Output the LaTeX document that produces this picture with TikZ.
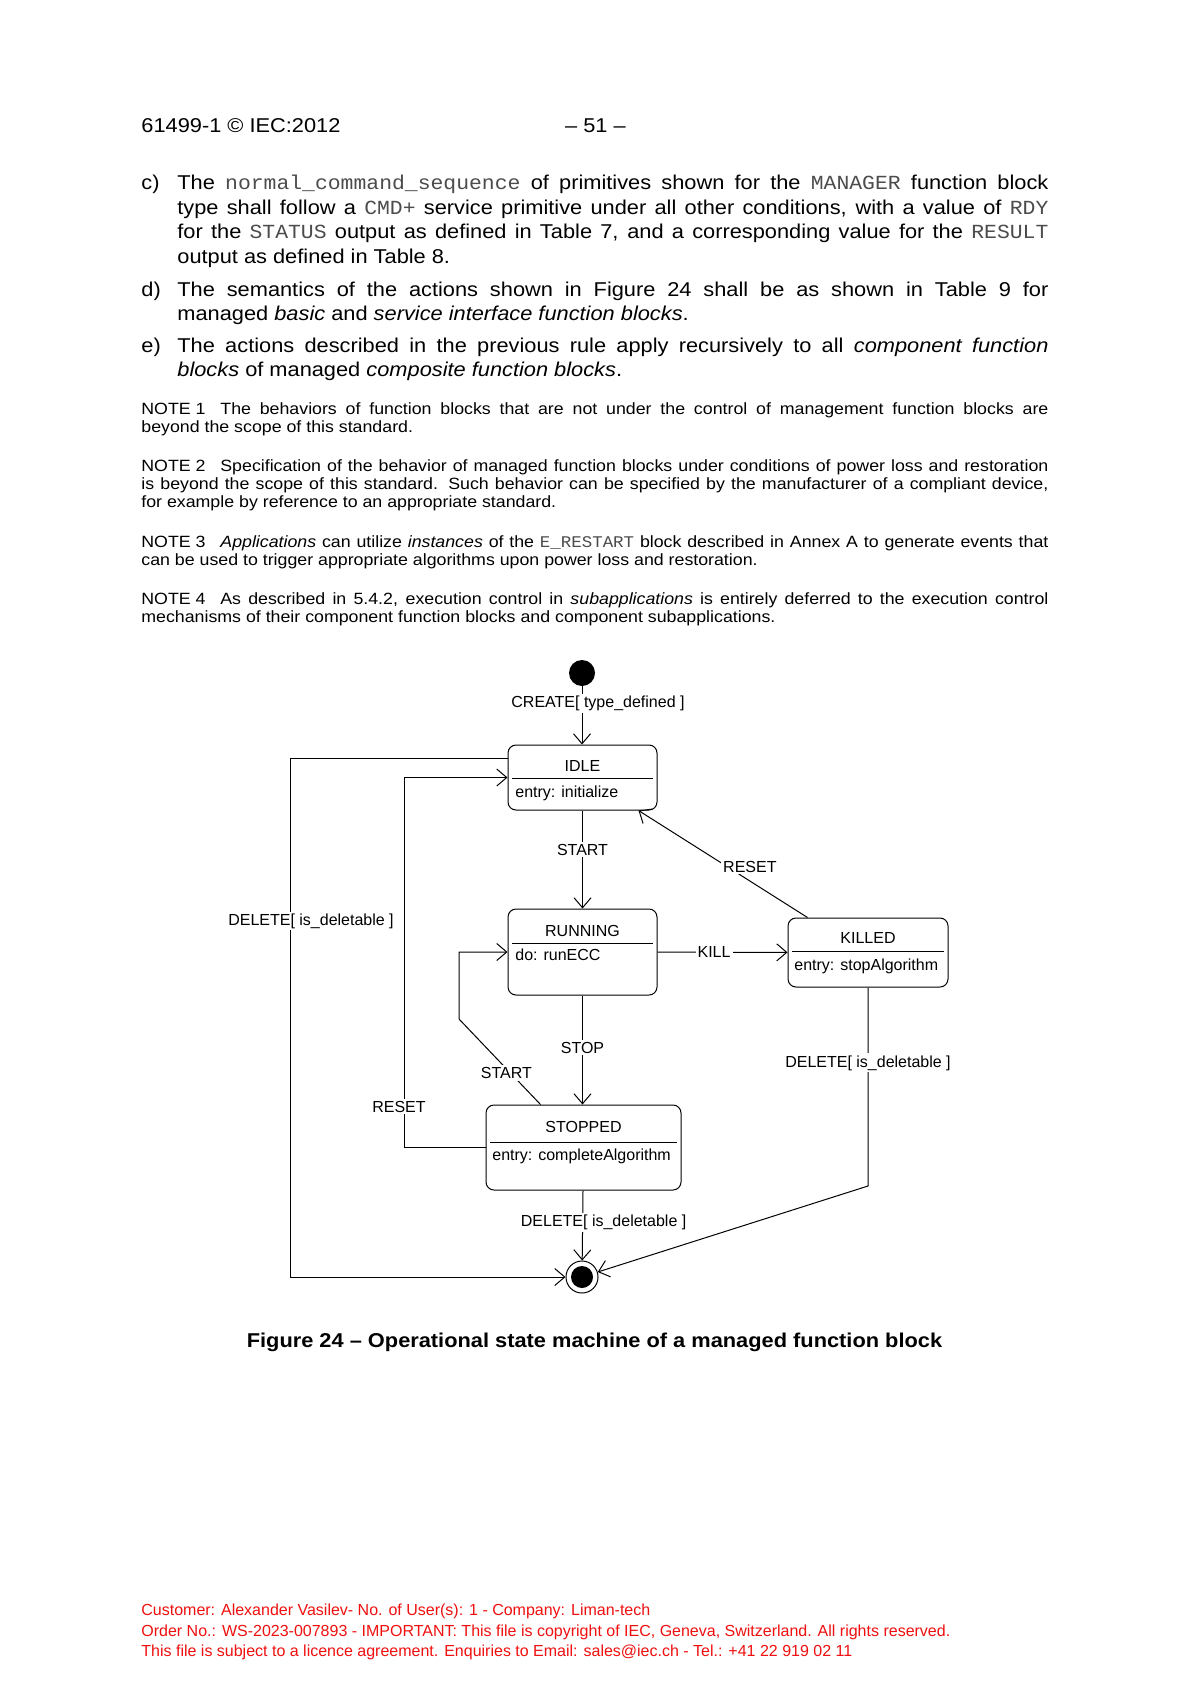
\documentclass[tikz,border=0pt]{standalone}
\usepackage{fontspec}
\setmainfont{Liberation Sans}[FakeStretch=1.09]
\setmonofont{Liberation Mono}[FakeStretch=1.07]
\newfontfamily\diagfont{Liberation Sans}
\usepackage{xcolor}
\usetikzlibrary{arrows.meta}
\definecolor{iecred}{HTML}{F01010}
\newcommand{\iecmono}[1]{{\ttfamily\color{black!70}#1}}
\tikzset{
  ptext/.style={inner sep=0pt,anchor=base west},
  fstate/.style={draw,rounded corners=4pt,line width=0.5pt,inner sep=0pt},
  fsep/.style={line width=0.5pt},
  ftitle/.style={inner sep=0pt,anchor=base,font=\diagfont\fontsize{8}{9.6}\selectfont},
  fact/.style={inner sep=0pt,anchor=base west,font=\diagfont\fontsize{8}{9.6}\selectfont},
  farr/.style={-{Straight Barb[length=5pt,width=8.5pt]},line width=0.5pt},
  flab/.style={fill=white,inner sep=1pt,font=\diagfont\fontsize{8}{9.6}\selectfont}
}

\begin{document}
\begin{tikzpicture}[x=0.5pt,y=-0.5pt]
  \path[fill=white,use as bounding box] (0,0) rectangle (1191,1685);
  % page head
  \node[ptext,font=\fontsize{10}{12}\selectfont] (hd) at (141,133) {61499-1 © IEC:2012};
  \node[inner sep=0pt,anchor=base,font=\fontsize{10}{12}\selectfont] (pg) at (595.5,133) {– 51 –};
  % rules c) to e)
  \node[ptext,font=\fontsize{10}{12}\selectfont] (lc) at (141,190) {c)};
  \node[ptext] (pc) at (177,190) {\parbox[t]{435.5pt}{\fontsize{10}{12.2}\selectfont\sloppy
    The \iecmono{normal\_command\_sequence} of primitives shown for the \iecmono{MANAGER} function block\linebreak
    type shall follow a \iecmono{CMD+} service primitive under all other conditions, with a value of \iecmono{RDY}\linebreak
    for the \iecmono{STATUS} output as defined in Table 7, and a corresponding value for the \iecmono{RESULT}\linebreak
    output as defined in Table 8.}};
  \node[ptext,font=\fontsize{10}{12}\selectfont] (ld) at (141,296) {d)};
  \node[ptext] (pd) at (177,296) {\parbox[t]{435.5pt}{\fontsize{10}{12.2}\selectfont\sloppy
    The semantics of the actions shown in Figure 24 shall be as shown in Table 9 for\linebreak
    managed \textit{basic} and \textit{service interface function blocks}.}};
  \node[ptext,font=\fontsize{10}{12}\selectfont] (le) at (141,352) {e)};
  \node[ptext] (pe) at (177,352) {\parbox[t]{435.5pt}{\fontsize{10}{12.2}\selectfont\sloppy
    The actions described in the previous rule apply recursively to all \textit{component function}\linebreak
    \textit{blocks} of managed \textit{composite function blocks}.}};
  % notes
  \node[ptext] (n1) at (141,414) {\parbox[t]{453.5pt}{\fontsize{8.15}{9.15}\selectfont\sloppy
    \makebox[39.5pt][l]{NOTE 1}The behaviors of function blocks that are not under the control of management function blocks are\linebreak
    beyond the scope of this standard.}};
  \node[ptext] (n2) at (141,471) {\parbox[t]{453.5pt}{\fontsize{8.15}{9.15}\selectfont\sloppy
    \makebox[39.5pt][l]{NOTE 2}Specification of the behavior of managed function blocks under conditions of power loss and restoration\linebreak
    is beyond the scope of this standard. Such behavior can be specified by the manufacturer of a compliant device,\linebreak
    for example by reference to an appropriate standard.}};
  \node[ptext] (n3) at (141,547.5) {\parbox[t]{453.5pt}{\fontsize{8.15}{9.15}\selectfont\sloppy
    \makebox[39.5pt][l]{NOTE 3}\textit{Applications} can utilize \textit{instances} of the \iecmono{E\_RESTART} block described in Annex A to generate events that\linebreak
    can be used to trigger appropriate algorithms upon power loss and restoration.}};
  \node[ptext] (n4) at (141,604.5) {\parbox[t]{453.5pt}{\fontsize{8.15}{9.15}\selectfont\sloppy
    \makebox[39.5pt][l]{NOTE 4}As described in 5.4.2, execution control in \textit{subapplications} is entirely deferred to the execution control\linebreak
    mechanisms of their component function blocks and component subapplications.}};

  % state machine
  \node[fill,circle,minimum size=13pt,inner sep=0pt] (init) at (582,673) {};
  \node[fstate,minimum width=74.5pt,minimum height=32.5pt] (idle) at (582.5,777.5) {};
  \draw[fsep] (512,778) -- (653,778);
  \node[ftitle] (idle-t) at (582.5,771) {IDLE};
  \node[fact] (idle-a) at (515,797) {entry: initialize};
  \node[fstate,minimum width=74.5pt,minimum height=43pt] (running) at (582.5,952) {};
  \draw[fsep] (512,943) -- (653,943);
  \node[ftitle] (running-t) at (582.5,936) {RUNNING};
  \node[fact] (running-a) at (515,960) {do: runECC};
  \node[fstate,minimum width=80pt,minimum height=34.5pt] (killed) at (868,952.5) {};
  \draw[fsep] (792,951) -- (944,951);
  \node[ftitle] (killed-t) at (868,943) {KILLED};
  \node[fact] (killed-a) at (794,970) {entry: stopAlgorithm};
  \node[fstate,minimum width=97.5pt,minimum height=42.5pt] (stopped) at (583.5,1147.5) {};
  \draw[fsep] (490,1142) -- (677,1142);
  \node[ftitle] (stopped-t) at (583.5,1132) {STOPPED};
  \node[fact] (stopped-a) at (492,1160) {entry: completeAlgorithm};
  \node[draw,circle,line width=0.5pt,minimum size=16pt,inner sep=0pt] (fin) at (582,1277) {};
  \node[fill,circle,minimum size=11pt,inner sep=0pt] (fin-in) at (fin) {};

  \coordinate (kb) at (868,1186);
  \coordinate (dt) at (290,758);
  \coordinate (db) at (290,1277);
  \coordinate (rt) at (404,777.5);
  \coordinate (rb) at (404,1147.5);
  \coordinate (sb) at (459,1019);
  \coordinate (st) at (459,952);

  \draw[farr] (init) -- node[flab,pos=0.3,xshift=8pt]{CREATE[ type\_defined ]} (init |- idle.north);
  \draw[farr] (idle) -- node[flab,pos=0.4]{START} (running);
  \draw[farr] (running) -- node[flab,pos=0.48]{STOP} (running.south |- stopped.north);
  \draw[farr] (stopped) -- node[flab,pos=0.46,xshift=10.5pt]{DELETE[ is\_deletable ]} (fin);
  \draw[farr] (running) -- node[flab,pos=0.435]{KILL} (killed);
  \draw[farr] ([xshift=10pt]killed.north west) -- node[flab,pos=0.4,xshift=5pt,yshift=4pt]{RESET} ([xshift=-9.5pt]idle.south east);
  \draw[farr] (killed) -- node[flab,pos=0.38]{DELETE[ is\_deletable ]} (kb) -- (fin);
  \draw[farr] (idle.west |- dt) -- (dt) -- node[flab,pos=0.314,xshift=10.5pt]{DELETE[ is\_deletable ]} (db) -- (fin);
  \draw[farr] (stopped.west) -- (rb) -- node[flab,pos=0.11,xshift=-2.5pt]{RESET} (rt) -- (idle.west);
  \draw[farr] ([xshift=27.5pt]stopped.north west) -- node[flab,pos=0.37,xshift=-2pt]{START} (sb) -- (st) -- (running.west);

  \node[inner sep=0pt,anchor=base,font=\fontsize{10}{12}\selectfont\bfseries] (cap) at (594.5,1347.5)
    {Figure 24 – Operational state machine of a managed function block};
  % footer
  \node[ptext] (foot) at (141,1604) {\parbox[t]{520pt}{\raggedright\diagfont\fontsize{8}{10.2}\selectfont\color{iecred}
    Customer: Alexander Vasilev- No. of User(s): 1 - Company: Liman-tech\\
    Order No.: WS-2023-007893 - IMPORTANT: This file is copyright of IEC, Geneva, Switzerland. All rights reserved.\\
    This file is subject to a licence agreement. Enquiries to Email: sales@iec.ch - Tel.: +41 22 919 02 11}};
\end{tikzpicture}
\end{document}
